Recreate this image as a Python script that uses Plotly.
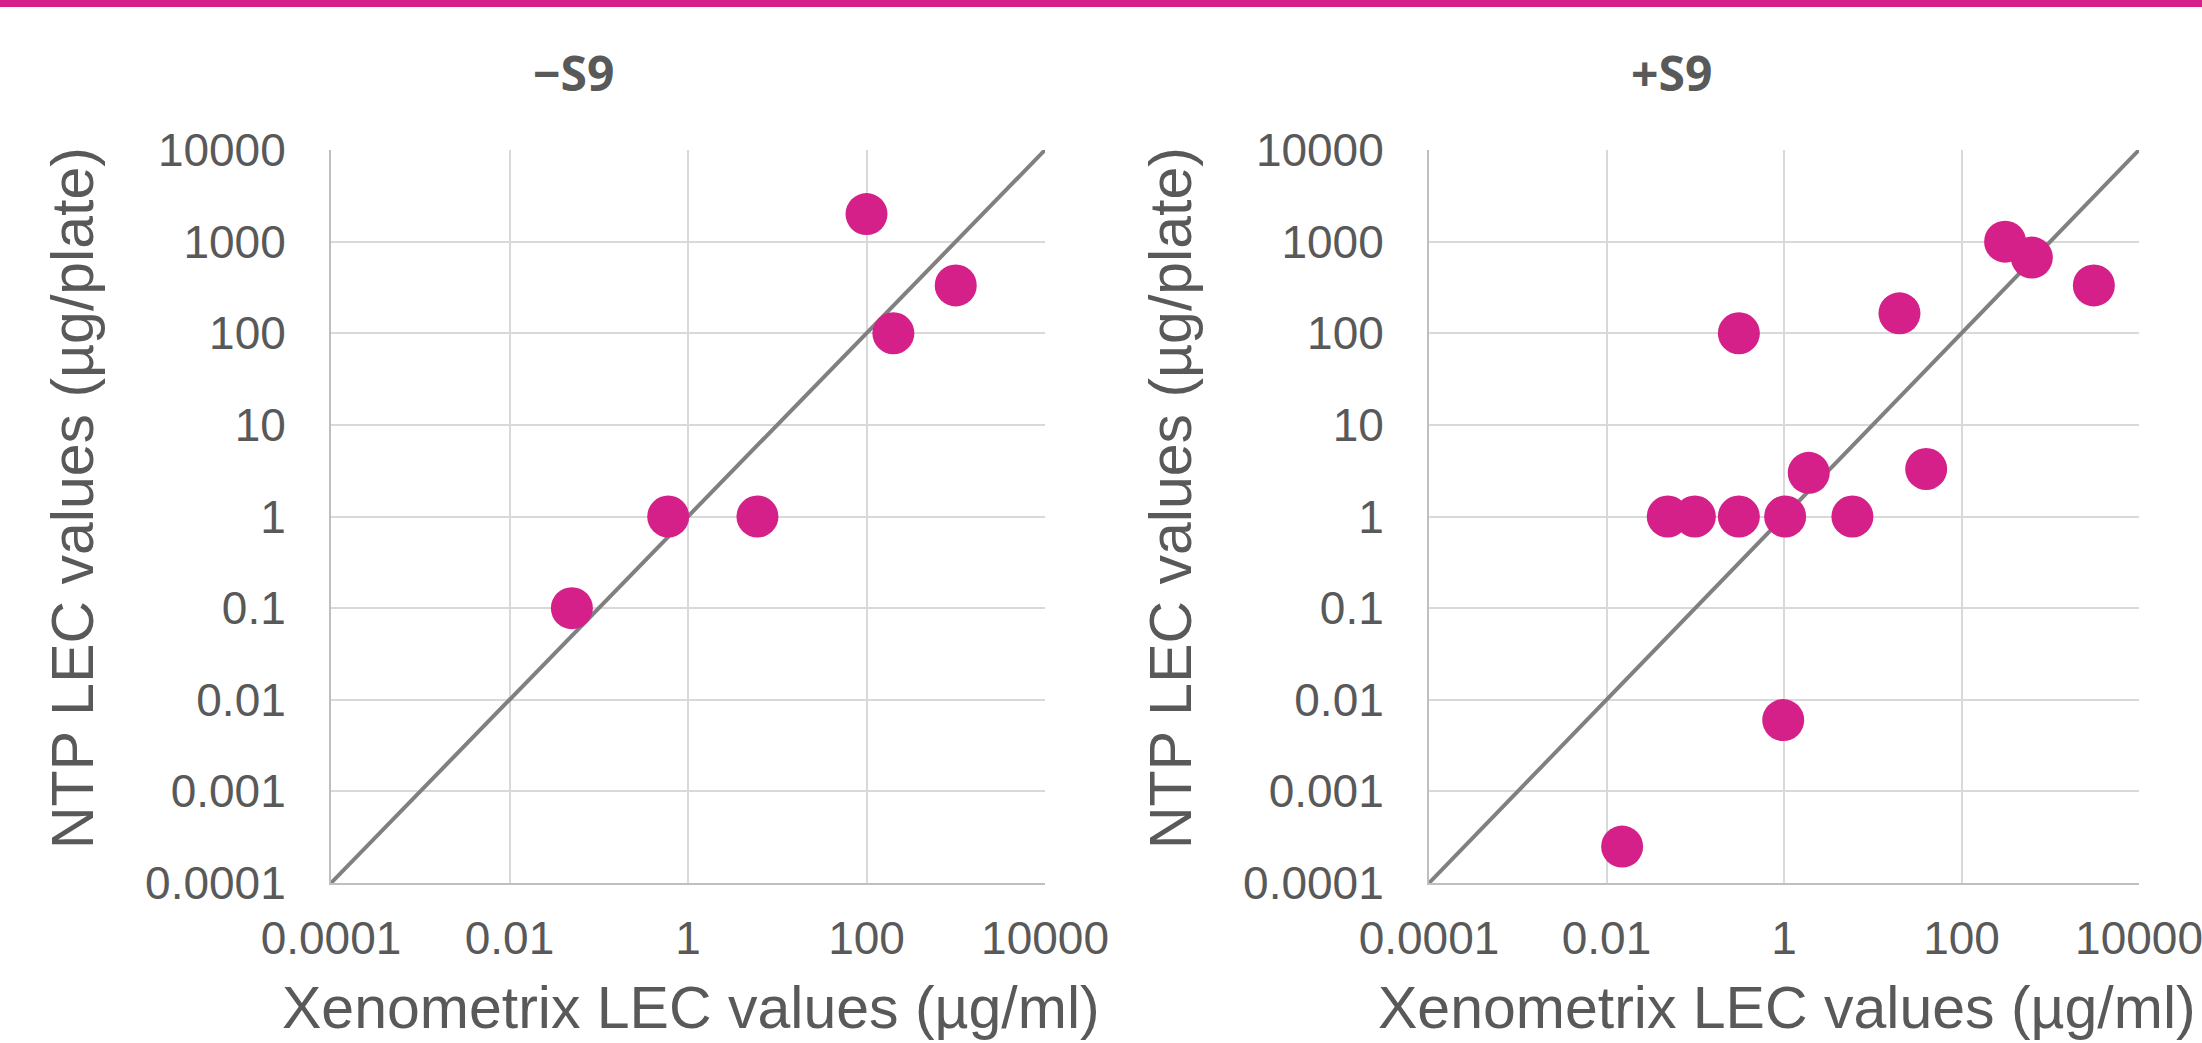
import plotly.graph_objects as go

# ---- data ----
panel_titles = ["\u2212S9", "+S9"]
x_title = "Xenometrix LEC values (\u00b5g/ml)"
y_title = "NTP LEC values (\u00b5g/plate)"

minus_x = [100, 1000, 200, 0.6, 6, 0.05]
minus_y = [2000, 333, 100, 1, 1, 0.1]

plus_x = [310, 620, 3100, 20, 0.31, 1.9, 40, 0.049, 0.099, 0.31, 1.03, 5.9, 0.98, 0.015]
plus_y = [1000, 670, 333, 165, 100, 3, 3.3, 1, 1, 1, 1, 1, 0.006, 0.00025]

identity = [0.0001, 10000]

x_tickvals = [0.0001, 0.01, 1, 100, 10000]
x_ticktext = ["0.0001", "0.01", "1", "100", "10000"]
y_tickvals = [0.0001, 0.001, 0.01, 0.1, 1, 10, 100, 1000, 10000]
y_ticktext = ["0.0001", "0.001", "0.01", "0.1", "1", "10", "100", "1000", "10000"]

# ---- style ----
W, H = 2202, 1043
PINK = "#D5208A"
TXT = "#595959"
FONT = "Liberation Sans, Arial, sans-serif"
TFONT = "Open Sans, Liberation Sans, sans-serif"

fig = go.Figure()

panels = [(minus_x, minus_y, "x", "y"), (plus_x, plus_y, "x2", "y2")]
for xs, ys, xa, ya in panels:
    fig.add_trace(go.Scatter(x=identity, y=identity, mode="lines",
                             line=dict(color="#808080", width=4),
                             xaxis=xa, yaxis=ya, showlegend=False, hoverinfo="skip"))
    fig.add_trace(go.Scatter(x=xs, y=ys, mode="markers",
                             marker=dict(color=PINK, size=42, line=dict(width=0)),
                             xaxis=xa, yaxis=ya, showlegend=False))

# plot area pixel boxes
L1, R1 = 331, 1045
L2, R2 = 1429, 2139
T, B = 150, 883

def px(v):
    return v / W

def py(v):
    return 1 - v / H

common_x = dict(type="log", range=[-4, 4], tickvals=x_tickvals, ticktext=x_ticktext,
                showgrid=True, gridcolor="#D9D9D9", gridwidth=2,
                showline=True, linecolor="#BFBFBF", linewidth=2, mirror=False,
                ticks="", ticklabelstandoff=14, automargin=False,
                ticklabeloverflow="allow",
                tickfont=dict(family=FONT, size=46, color=TXT), fixedrange=True)
common_y = dict(type="log", range=[-4, 4], tickvals=y_tickvals, ticktext=y_ticktext,
                showgrid=True, gridcolor="#D9D9D9", gridwidth=2,
                showline=True, linecolor="#BFBFBF", linewidth=2, mirror=False,
                ticks="", ticklabelstandoff=34, automargin=False,
                ticklabeloverflow="allow",
                tickfont=dict(family=FONT, size=46, color=TXT), fixedrange=True)

fig.update_layout(
    width=W, height=H,
    margin=dict(l=0, r=0, t=0, b=0, pad=0, autoexpand=False),
    paper_bgcolor="white", plot_bgcolor="white",
    xaxis=dict(domain=[px(L1), px(R1)], anchor="y", **common_x),
    yaxis=dict(domain=[py(B), py(T)], anchor="x", **common_y),
    xaxis2=dict(domain=[px(L2), px(R2)], anchor="y2", **common_x),
    yaxis2=dict(domain=[py(B), py(T)], anchor="x2", **common_y),
    showlegend=False,
)

# top pink bar
fig.add_shape(type="rect", xref="paper", yref="paper", x0=0, x1=1, y0=py(7), y1=1,
              fillcolor=PINK, line=dict(width=0), layer="above")

ann = []
for i, (L, R) in enumerate([(L1, R1), (L2, R2)]):
    # panel title
    ann.append(dict(text="<b>%s</b>" % panel_titles[i], xref="paper", yref="paper",
                    x=px(L + 242), y=py(72), xanchor="center", yanchor="middle",
                    showarrow=False, font=dict(family=TFONT, size=48, color=TXT)))
    # x axis title
    ann.append(dict(text=x_title, xref="paper", yref="paper",
                    x=px((L + R) / 2 + 3), y=0, xanchor="center", yanchor="bottom",
                    showarrow=False, font=dict(family=FONT, size=59, color=TXT)))
    # y axis title
    ann.append(dict(text=y_title, xref="paper", yref="paper", textangle=-90,
                    x=px(L - 258), y=py(498), xanchor="center", yanchor="middle",
                    showarrow=False, font=dict(family=FONT, size=59, color=TXT)))
fig.update_layout(annotations=ann)

fig.write_html("out.html", config={"displayModeBar": False},
               post_script="document.body.style.margin='0';document.body.style.overflow='hidden';")
